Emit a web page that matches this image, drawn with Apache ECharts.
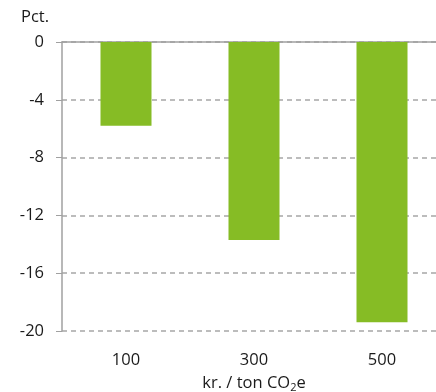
<!DOCTYPE html>
<html>
<head>
<meta charset="utf-8">
<script src="https://cdn.jsdelivr.net/npm/echarts@6/dist/echarts.min.js"></script>
<style>html,body{margin:0;padding:0;background:#fff}#c{width:436px;height:392px}</style>
</head>
<body>
<div id="c"></div>
<script>
const categories = ['100', '300', '500'];
const values = [-5.8, -13.7, -19.4];
const yTicks = [0, -4, -8, -12, -16, -20];
const unitLabel = 'Pct.';
const xTitle = '{a|kr. / ton CO}{s|2}{a|e}';

const chart = echarts.init(document.getElementById('c'), null, {renderer: 'canvas'});
const font = 'Open Sans';
const fs = 16.5;
chart.setOption({
  animation: false,
  textStyle: {fontFamily: font},
  grid: {left: 62, top: 42, width: 384, height: 289, containLabel: false, outerBoundsMode: 'none'},
  graphic: [{
    type: 'text', left: 21, top: 9,
    style: {text: unitLabel, font: fs + 'px "Open Sans"', fill: '#1a1a1a'}
  }],
  xAxis: [{
    type: 'category', data: categories, position: 'bottom',
    axisLine: {show: false}, axisTick: {show: false},
    axisLabel: {color: '#1a1a1a', fontSize: fs, margin: 21, fontFamily: font},
    name: xTitle, nameLocation: 'middle', nameGap: 42,
    nameTextStyle: {
      rich: {
        a: {fontSize: fs, color: '#1a1a1a', fontFamily: font},
        s: {fontSize: 11, color: '#1a1a1a', fontFamily: font, padding: [9, 0, 0, 0]}
      }
    }
  }, {
    type: 'category', data: categories, position: 'top',
    axisLine: {show: true, onZero: false, lineStyle: {color: '#a0a0a0', width: 1.5}},
    axisTick: {show: false}, axisLabel: {show: false}
  }],
  yAxis: {
    type: 'value', min: -20, max: 0, interval: 4,
    axisLine: {show: true, lineStyle: {color: '#a0a0a0', width: 1.5}},
    axisTick: {show: true, length: 6, lineStyle: {color: '#a0a0a0'}},
    axisLabel: {color: '#1a1a1a', fontSize: fs, margin: 18, fontFamily: font,
      formatter: v => yTicks.includes(v) ? String(v) : ''},
    splitLine: {show: true, lineStyle: {color: '#a6a6a6', type: [5, 4], width: 1.5}}
  },
  series: [{
    type: 'bar', data: values, barWidth: 51,
    itemStyle: {color: '#86bc25'}
  }]
});
</script>
</body>
</html>
